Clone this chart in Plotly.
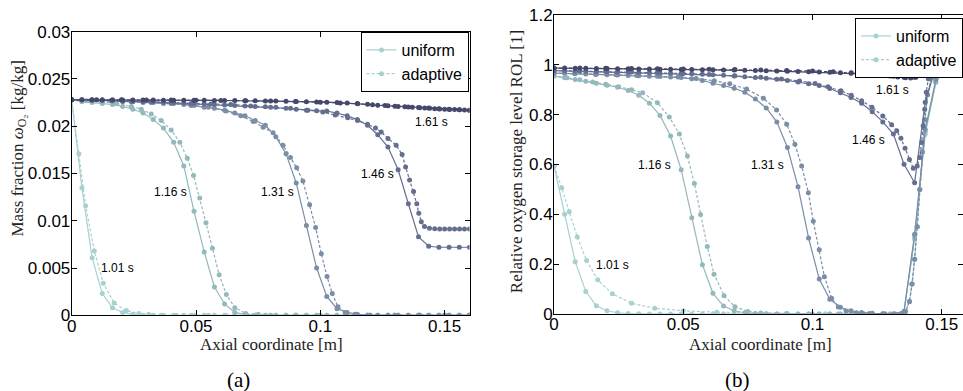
import plotly.graph_objects as go

# ---------------- data ----------------
times = ["1.01 s", "1.16 s", "1.31 s", "1.46 s", "1.61 s"]
colors = ["#a9d0d0", "#93b9bd", "#7b8ea8", "#646f90", "#45476b"]

# uniform grid: 40 nodes on [0, 0.16] m
x_uniform = [0.0, 0.0041, 0.0082, 0.0123, 0.0164, 0.0205, 0.0246, 0.0287, 0.0328, 0.0369,
             0.0410, 0.0451, 0.0492, 0.0533, 0.0574, 0.0615, 0.0656, 0.0697, 0.0738, 0.0779,
             0.0821, 0.0862, 0.0903, 0.0944, 0.0985, 0.1026, 0.1067, 0.1108, 0.1149, 0.1190,
             0.1231, 0.1272, 0.1313, 0.1354, 0.1395, 0.1436, 0.1477, 0.1518, 0.1559, 0.16]

# (a) mass fraction, uniform
wa_u1 = [0.0228, 0.0135, 0.0061, 0.0023, 0.0008, 0.0003, 0.0001, 0, 0, 0,
         0, 0, 0, 0, 0, 0, 0, 0, 0, 0,
         0, 0, 0, 0, 0, 0, 0, 0, 0, 0,
         0, 0, 0, 0, 0, 0, 0, 0, 0, 0]
wa_u2 = [0.0228, 0.0226, 0.0225, 0.0224, 0.0223, 0.0221, 0.0218, 0.0214, 0.0207, 0.0198,
         0.0183, 0.0158, 0.0110, 0.0067, 0.0030, 0.0012, 0.0003, 0.0001, 0, 0,
         0, 0, 0, 0, 0, 0, 0, 0, 0, 0,
         0, 0, 0, 0, 0, 0, 0, 0, 0, 0]
wa_u3 = [0.0228, 0.02278, 0.02275, 0.0227, 0.0227, 0.0226, 0.0226, 0.0225, 0.0225, 0.0224,
         0.0224, 0.0223, 0.0222, 0.0220, 0.0219, 0.0217, 0.0214, 0.0211, 0.0206, 0.0201,
         0.0189, 0.0171, 0.0140, 0.0095, 0.0050, 0.0020, 0.0007, 0.0003, 0.0001, 0,
         0, 0, 0, 0, 0, 0, 0, 0, 0, 0]
wa_u4 = [0.0228, 0.02279, 0.02277, 0.02275, 0.0227, 0.02268, 0.02265, 0.0226, 0.02258, 0.02255,
         0.0225, 0.02245, 0.0224, 0.02235, 0.0223, 0.02225, 0.0222, 0.02215, 0.0221, 0.02205,
         0.0220, 0.0219, 0.0218, 0.0217, 0.02165, 0.0216, 0.0214, 0.0211, 0.0207, 0.0201,
         0.0191, 0.0178, 0.0154, 0.0118, 0.0083, 0.0073, 0.0072, 0.0072, 0.0072, 0.0072]
wa_u5 = [0.0228, 0.0228, 0.0228, 0.02279, 0.02279, 0.02278, 0.02278, 0.02277, 0.02277, 0.02276,
         0.02276, 0.02275, 0.02275, 0.02274, 0.02273, 0.02272, 0.02271, 0.0227, 0.02269, 0.02268,
         0.02266, 0.02264, 0.02262, 0.0226, 0.02257, 0.02254, 0.0225, 0.02245, 0.0224, 0.02232,
         0.02222, 0.02216, 0.0221, 0.02204, 0.02198, 0.02192, 0.02186, 0.0218, 0.02175, 0.0217]

# (a) mass fraction, adaptive
xa_a1 = [0, 0.0029, 0.0056, 0.0091, 0.0127, 0.0171, 0.022, 0.027, 0.031, 0.036, 0.042, 0.048,
         0.055, 0.062, 0.07, 0.08, 0.09, 0.1, 0.11, 0.12, 0.13, 0.14, 0.15, 0.16]
wa_a1 = [0.0228, 0.0171, 0.0116, 0.0068, 0.0034, 0.0013, 0.0005, 0.0002, 0.0001, 0, 0, 0,
         0, 0, 0, 0, 0, 0, 0, 0, 0, 0, 0, 0]
xa_a2 = [0, 0.006, 0.012, 0.018, 0.024, 0.028, 0.032, 0.036, 0.040, 0.0435,
         0.0465, 0.049, 0.0515, 0.054, 0.0566, 0.0593, 0.0622, 0.0656, 0.070, 0.075,
         0.08, 0.09, 0.1, 0.11, 0.12, 0.13, 0.14, 0.15, 0.16]
wa_a2 = [0.0228, 0.0227, 0.0226, 0.0224, 0.0221, 0.0218, 0.0213, 0.0206, 0.0196, 0.0183,
         0.0166, 0.0148, 0.0124, 0.0098, 0.0071, 0.0043, 0.0022, 0.0008, 0.0002, 0.0001,
         0, 0, 0, 0, 0, 0, 0, 0, 0]
xa_a3 = [0, 0.008, 0.016, 0.024, 0.032, 0.04, 0.048, 0.055, 0.062, 0.068,
         0.073, 0.077, 0.081, 0.085, 0.088, 0.0905, 0.093, 0.0957, 0.0981, 0.1004,
         0.1027, 0.1048, 0.1071, 0.11, 0.114, 0.12, 0.13, 0.14, 0.15, 0.16]
wa_a3 = [0.0228, 0.02275, 0.0227, 0.0226, 0.0225, 0.0224, 0.0222, 0.0220, 0.0216, 0.0211,
         0.0205, 0.0199, 0.0193, 0.0180, 0.0167, 0.0156, 0.0142, 0.0117, 0.0093, 0.0065,
         0.0041, 0.0023, 0.0009, 0.0003, 0.0001, 0, 0, 0, 0, 0]
xa_a4 = [0, 0.008, 0.016, 0.024, 0.032, 0.04, 0.048, 0.056, 0.064, 0.072,
         0.08, 0.088, 0.095, 0.101, 0.106, 0.111, 0.115, 0.119, 0.1222, 0.1245,
         0.1272, 0.1305, 0.1329, 0.1343, 0.1359, 0.1375, 0.1388, 0.1396, 0.1406, 0.1419,
         0.1439, 0.146, 0.148, 0.15, 0.152, 0.154, 0.156, 0.158, 0.16]
wa_a4 = [0.0228, 0.02277, 0.02272, 0.02265, 0.0226, 0.0225, 0.0224, 0.02235, 0.0223, 0.02215,
         0.022, 0.0219, 0.0217, 0.0215, 0.0212, 0.0209, 0.0206, 0.0202, 0.0198, 0.0194,
         0.0187, 0.0180, 0.0170, 0.0157, 0.0143, 0.0131, 0.0118, 0.0108, 0.0099, 0.0094,
         0.0092, 0.00915, 0.00913, 0.00913, 0.00913, 0.00913, 0.00913, 0.00913, 0.00913]
xa_a5 = [0, 0.01, 0.02, 0.03, 0.04, 0.05, 0.06, 0.07, 0.08, 0.09,
         0.1, 0.108, 0.115, 0.121, 0.126, 0.13, 0.134, 0.137, 0.14, 0.142,
         0.144, 0.146, 0.148, 0.15, 0.152, 0.154, 0.156, 0.158, 0.16]
wa_a5 = [0.0228, 0.0228, 0.02279, 0.02278, 0.02277, 0.02275, 0.02273, 0.0227, 0.02267, 0.02262,
         0.02255, 0.02247, 0.02237, 0.02227, 0.02219, 0.02212, 0.02205, 0.022, 0.02195, 0.02192,
         0.02189, 0.02186, 0.02183, 0.0218, 0.02178, 0.02176, 0.02174, 0.02172, 0.0217]

# (b) relative oxygen storage level, uniform
rb_u1 = [0.594, 0.40, 0.21, 0.09, 0.033, 0.013, 0.005, 0.002, 0.001, 0,
         0, 0, 0, 0, 0, 0, 0, 0, 0, 0,
         0, 0, 0, 0, 0, 0, 0, 0, 0, 0,
         0, 0, 0, 0.01, 0.30, 0.72, 0.93, 0.99, 1.0, 1.0]
rb_u2 = [0.955, 0.948, 0.941, 0.934, 0.926, 0.918, 0.910, 0.897, 0.878, 0.846,
         0.797, 0.714, 0.579, 0.386, 0.198, 0.083, 0.032, 0.013, 0.005, 0.002,
         0.001, 0, 0, 0, 0, 0, 0, 0, 0, 0,
         0, 0, 0, 0.01, 0.31, 0.73, 0.93, 0.99, 1.0, 1.0]
rb_u3 = [0.967, 0.966, 0.965, 0.963, 0.962, 0.960, 0.959, 0.957, 0.956, 0.954,
         0.953, 0.951, 0.949, 0.944, 0.937, 0.926, 0.917, 0.906, 0.890, 0.863,
         0.827, 0.771, 0.668, 0.511, 0.305, 0.140, 0.059, 0.027, 0.013, 0.006,
         0.003, 0.001, 0.0, 0.01, 0.32, 0.74, 0.94, 0.99, 1.0, 1.0]
rb_u4 = [0.977, 0.976, 0.975, 0.974, 0.973, 0.972, 0.971, 0.970, 0.969, 0.968,
         0.967, 0.966, 0.965, 0.964, 0.962, 0.960, 0.958, 0.955, 0.952, 0.949,
         0.946, 0.942, 0.937, 0.931, 0.924, 0.917, 0.905, 0.888, 0.869, 0.846,
         0.812, 0.771, 0.722, 0.601, 0.527, 0.85, 0.99, 1.0, 1.0, 1.0]
rb_u5 = [0.987, 0.987, 0.986, 0.986, 0.985, 0.985, 0.984, 0.984, 0.983, 0.983,
         0.982, 0.982, 0.981, 0.981, 0.980, 0.980, 0.979, 0.979, 0.978, 0.977,
         0.976, 0.975, 0.974, 0.973, 0.972, 0.971, 0.970, 0.968, 0.966, 0.964,
         0.961, 0.958, 0.954, 0.950, 0.950, 0.975, 0.995, 1.0, 1.0, 1.0]

# (b) relative oxygen storage level, adaptive
xb_a1 = [0, 0.003, 0.0059, 0.009, 0.0126, 0.0169, 0.0226, 0.030, 0.039, 0.050,
         0.063, 0.075, 0.09, 0.105, 0.12, 0.13, 0.134, 0.136, 0.1375, 0.1385,
         0.1395, 0.1405, 0.1415, 0.1425, 0.1435, 0.1445, 0.146, 0.148, 0.151, 0.155, 0.16]
rb_a1 = [0.594, 0.507, 0.41, 0.309, 0.215, 0.137, 0.081, 0.043, 0.023, 0.013,
         0.007, 0.004, 0.002, 0.001, 0.0005, 0.0003, 0.0, 0.01, 0.05, 0.12,
         0.22, 0.35, 0.50, 0.65, 0.78, 0.88, 0.95, 0.985, 0.998, 1.0, 1.0]
xb_a2 = [0, 0.005, 0.01, 0.015, 0.02, 0.025, 0.03, 0.0343, 0.040, 0.0446,
         0.0485, 0.0516, 0.0543, 0.0567, 0.0593, 0.0619, 0.0658, 0.070, 0.075, 0.08,
         0.09, 0.1, 0.11, 0.12, 0.13, 0.134, 0.136, 0.1375, 0.1385, 0.1395,
         0.1405, 0.1415, 0.1425, 0.1435, 0.1445, 0.146, 0.148, 0.151, 0.155, 0.16]
rb_a2 = [0.955, 0.948, 0.940, 0.931, 0.922, 0.912, 0.900, 0.888, 0.848, 0.791,
         0.722, 0.634, 0.524, 0.399, 0.271, 0.160, 0.073, 0.029, 0.010, 0.004,
         0.001, 0, 0, 0, 0, 0, 0.01, 0.05, 0.12, 0.22,
         0.35, 0.50, 0.65, 0.78, 0.88, 0.95, 0.985, 0.998, 1.0, 1.0]
xb_a3 = [0, 0.008, 0.016, 0.024, 0.032, 0.04, 0.048, 0.055, 0.062, 0.068,
         0.0745, 0.081, 0.0861, 0.090, 0.0932, 0.0958, 0.0984, 0.1003, 0.1026, 0.1046,
         0.1074, 0.110, 0.113, 0.117, 0.122, 0.128, 0.132, 0.134, 0.136, 0.1375,
         0.1385, 0.1395, 0.1405, 0.1415, 0.1425, 0.1435, 0.1445, 0.146, 0.148, 0.151,
         0.155, 0.16]
rb_a3 = [0.967, 0.965, 0.962, 0.960, 0.957, 0.954, 0.951, 0.945, 0.936, 0.924,
         0.903, 0.866, 0.819, 0.762, 0.681, 0.594, 0.487, 0.372, 0.258, 0.150,
         0.063, 0.028, 0.012, 0.005, 0.002, 0.001, 0, 0, 0.01, 0.05,
         0.12, 0.22, 0.35, 0.50, 0.65, 0.78, 0.88, 0.95, 0.985, 0.998,
         1.0, 1.0]
xb_a4 = [0, 0.01, 0.02, 0.03, 0.04, 0.05, 0.06, 0.07, 0.08, 0.088,
         0.095, 0.101, 0.106, 0.111, 0.115, 0.119, 0.123, 0.1272, 0.1306, 0.1326,
         0.1342, 0.1358, 0.1375, 0.139, 0.1405, 0.1415, 0.1422, 0.1428, 0.1434, 0.144,
         0.1448, 0.1466, 0.149, 0.152, 0.156, 0.16]
rb_a4 = [0.977, 0.975, 0.973, 0.971, 0.968, 0.965, 0.961, 0.956, 0.950, 0.943,
         0.935, 0.925, 0.912, 0.896, 0.878, 0.856, 0.830, 0.795, 0.760, 0.735,
         0.705, 0.665, 0.620, 0.585, 0.594, 0.628, 0.688, 0.755, 0.822, 0.89,
         0.944, 0.984, 0.997, 1.0, 1.0, 1.0]
xb_a5 = [0, 0.01, 0.02, 0.03, 0.04, 0.05, 0.06, 0.07, 0.08, 0.09,
         0.1, 0.108, 0.115, 0.121, 0.126, 0.13, 0.133, 0.136, 0.138, 0.14,
         0.142, 0.144, 0.146, 0.148, 0.15, 0.152, 0.155, 0.158, 0.16]
rb_a5 = [0.987, 0.987, 0.986, 0.985, 0.984, 0.983, 0.982, 0.981, 0.979, 0.977,
         0.975, 0.972, 0.968, 0.964, 0.959, 0.955, 0.951, 0.948, 0.947, 0.950,
         0.958, 0.972, 0.986, 0.995, 0.999, 1.0, 1.0, 1.0, 1.0]

# time labels (data coordinates)
lab_a_x = [0.0184, 0.0396, 0.0826, 0.1228, 0.1446]
lab_a_y = [0.0050, 0.0130, 0.0130, 0.0150, 0.0205]
lab_b_x = [0.0227, 0.0387, 0.0827, 0.1217, 0.1308]
lab_b_y = [0.198, 0.598, 0.598, 0.699, 0.900]

# ticks
xa_ticks = [0, 0.05, 0.1, 0.15]
xa_ticktext = ["0", "0.05", "0.1", "0.15"]
ya_ticks = [0, 0.005, 0.01, 0.015, 0.02, 0.025, 0.03]
ya_ticktext = ["0", "0.005", "0.01", "0.015", "0.02", "0.025", "0.03"]
yb_ticks = [0, 0.2, 0.4, 0.6, 0.8, 1.0, 1.2]
yb_ticktext = ["0", "0.2", "0.4", "0.6", "0.8", "1", "1.2"]

uniform_a = [wa_u1, wa_u2, wa_u3, wa_u4, wa_u5]
adaptive_a = [(xa_a1, wa_a1), (xa_a2, wa_a2), (xa_a3, wa_a3), (xa_a4, wa_a4), (xa_a5, wa_a5)]
uniform_b = [rb_u1, rb_u2, rb_u3, rb_u4, rb_u5]
adaptive_b = [(xb_a1, rb_a1), (xb_a2, rb_a2), (xb_a3, rb_a3), (xb_a4, rb_a4), (xb_a5, rb_a5)]

# ---------------- figure ----------------
W, H = 963, 391
fig = go.Figure()

LW = 1.2
MS = 5
DASH = "3px,2px"

def add_series(xax, yax, legend, i, xu, yu, xa, ya):
    c = colors[i]
    fig.add_trace(go.Scatter(
        x=xu, y=yu, mode="lines+markers", xaxis=xax, yaxis=yax,
        line=dict(color=c, width=LW), marker=dict(color=c, size=MS),
        name="uniform", showlegend=(i == 0), legend=legend, cliponaxis=True))
    fig.add_trace(go.Scatter(
        x=xa, y=ya, mode="lines+markers", xaxis=xax, yaxis=yax,
        line=dict(color=c, width=LW, dash=DASH), marker=dict(color=c, size=MS),
        name="adaptive", showlegend=(i == 0), legend=legend, cliponaxis=True))

for i in range(5):
    add_series("x", "y", "legend", i, x_uniform, uniform_a[i], adaptive_a[i][0], adaptive_a[i][1])
for i in range(5):
    add_series("x2", "y2", "legend2", i, x_uniform, uniform_b[i], adaptive_b[i][0], adaptive_b[i][1])

sans = "Liberation Sans, Arial, sans-serif"
serif = "Liberation Serif, Times New Roman, serif"
tickfont = dict(family=sans, size=17, color="black")
axis_common = dict(showline=True, linecolor="black", linewidth=1, mirror="ticks",
                   ticks="inside", ticklen=5, tickcolor="black", tickwidth=1,
                   showgrid=False, zeroline=False, tickfont=tickfont, automargin=False)

def px_x(p):
    return p / W

def px_y(p):
    return 1 - p / H

fig.update_layout(
    width=W, height=H,
    margin=dict(l=0, r=0, t=0, b=0),
    paper_bgcolor="white", plot_bgcolor="white",
    xaxis=dict(domain=[px_x(71.7), px_x(469.5)], range=[0, 0.16], anchor="y",
               tickvals=xa_ticks, ticktext=xa_ticktext, ticklabelstandoff=-5, **axis_common),
    yaxis=dict(domain=[px_y(315.3), px_y(31.7)], range=[0, 0.03], anchor="x",
               tickvals=ya_ticks, ticktext=ya_ticktext, ticklabelstandoff=-3, **axis_common),
    xaxis2=dict(domain=[px_x(554), 1.0], range=[0, (963 - 554) / 2585.0], anchor="y2",
                tickvals=xa_ticks, ticktext=xa_ticktext, ticklabelstandoff=-5, **axis_common),
    yaxis2=dict(domain=[px_y(314), px_y(15)], range=[0, 1.2], anchor="x2",
                tickvals=yb_ticks, ticktext=yb_ticktext, ticklabelstandoff=-3, **axis_common),
    legend=dict(x=px_x(468.5), xanchor="right", y=px_y(32), yanchor="top",
                bgcolor="white", bordercolor="black", borderwidth=1,
                font=dict(family=sans, size=16, color="black"),
                tracegroupgap=0, itemwidth=30),
    legend2=dict(x=1.0, xanchor="right", y=px_y(18), yanchor="top",
                 bgcolor="white", bordercolor="black", borderwidth=1,
                 font=dict(family=sans, size=16, color="black"),
                 tracegroupgap=0, itemwidth=30),
    showlegend=True,
)

annotations = []
labfont = dict(family=sans, size=12, color="black")
for i in range(5):
    annotations.append(dict(x=lab_a_x[i], y=lab_a_y[i], xref="x", yref="y", text=times[i],
                            showarrow=False, font=labfont))
    annotations.append(dict(x=lab_b_x[i], y=lab_b_y[i], xref="x2", yref="y2", text=times[i],
                            showarrow=False, font=labfont))

def paper_text(px, py, text, size, angle=0, color="#222"):
    return dict(x=px_x(px), y=px_y(py), xref="paper", yref="paper", text=text,
                xanchor="center", yanchor="middle", textangle=angle,
                showarrow=False, font=dict(family=serif, size=size, color=color))

annotations += [
    paper_text(271, 344, "Axial coordinate [m]", 17),
    paper_text(760, 344, "Axial coordinate [m]", 17),
    paper_text(18, 148.5, "Mass fraction <i>ω</i><sub>O₂</sub> [kg/kg]", 17, -90),
    paper_text(516.7, 161.5, "Relative oxygen storage level ROL [1]", 17, -90),
    paper_text(238, 380, "(a)", 21, 0, "black"),
    paper_text(737, 380, "(b)", 21, 0, "black"),
]
fig.update_layout(annotations=annotations)

fig.write_html("out.html", config={"displayModeBar": False},
               post_script="document.body.style.margin='0px';")
